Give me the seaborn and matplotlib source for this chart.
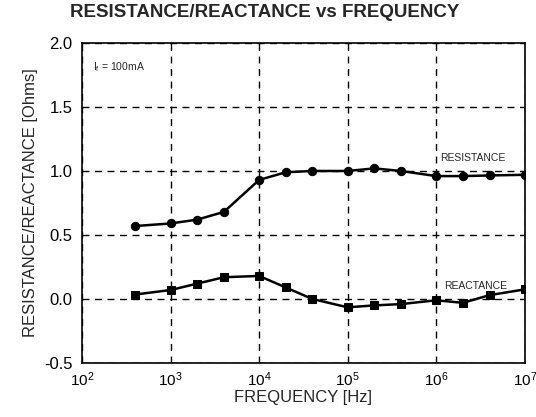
import matplotlib
matplotlib.use("Agg")
import matplotlib.pyplot as plt
import numpy as np
import pandas as pd
import seaborn as sns

# data
freq = [400, 1e3, 2e3, 4e3, 1e4, 2e4, 4e4, 1e5, 2e5, 4e5, 1e6, 2e6, 4e6, 1e7]
resistance = [0.57, 0.59, 0.62, 0.68, 0.93, 0.99, 1.0, 1.0, 1.02, 1.0, 0.96, 0.96, 0.965, 0.97]
reactance = [0.035, 0.07, 0.12, 0.17, 0.18, 0.09, 0.0, -0.065, -0.05, -0.04, -0.01, -0.03, 0.03, 0.075]

sns.set_style("white")
plt.rcParams['font.family'] = ['Liberation Sans', 'DejaVu Sans']

df = pd.DataFrame({'freq': freq, 'res': resistance, 'rea': reactance})

fig = plt.figure(figsize=(5.36, 4.17), dpi=100)
ax = fig.add_axes([0.153, 0.1295, 0.826, 0.7675])

sns.lineplot(data=df, x='freq', y='res', marker='o', markersize=6, color='black',
             linewidth=1.8, markeredgecolor='black', ax=ax)
sns.lineplot(data=df, x='freq', y='rea', marker='s', markersize=6, color='black',
             linewidth=1.8, markeredgecolor='black', ax=ax)

ax.set_xscale('log')
ax.set_xlim(1e2, 1e7)
ax.set_ylim(-0.5, 2.0)
ax.set_yticks([-0.5, 0.0, 0.5, 1.0, 1.5, 2.0])
ax.set_yticklabels(['-0.5', '0.0', '0.5', '1.0', '1.5', '2.0'])
ax.minorticks_off()
ax.tick_params(axis='y', length=0, labelsize=12, colors='black', pad=7)
ax.tick_params(axis='x', length=0, labelsize=11, colors='black', pad=5)
ax.grid(True, which='major', color='black', linestyle=(0, (5, 4)), linewidth=1.0)
for s in ax.spines.values():
    s.set_color('black')
    s.set_linewidth(1.2)

ax.set_xlabel('FREQUENCY [Hz]', fontsize=12, labelpad=1)
ax.set_ylabel('RESISTANCE/REACTANCE [Ohms]', fontsize=12, labelpad=4)
fig.suptitle('RESISTANCE/REACTANCE vs FREQUENCY', fontsize=13.5, fontweight='bold',
             x=0.493, y=0.99)

ax.text(0.025, 0.915, r'I$_{\mathregular{f}}$ = 100mA', transform=ax.transAxes, fontsize=7.5)
ax.text(0.81, 0.63, 'RESISTANCE', transform=ax.transAxes, fontsize=7.5)
ax.text(0.818, 0.23, 'REACTANCE', transform=ax.transAxes, fontsize=7.5)

fig.savefig('out.png', dpi=100)
